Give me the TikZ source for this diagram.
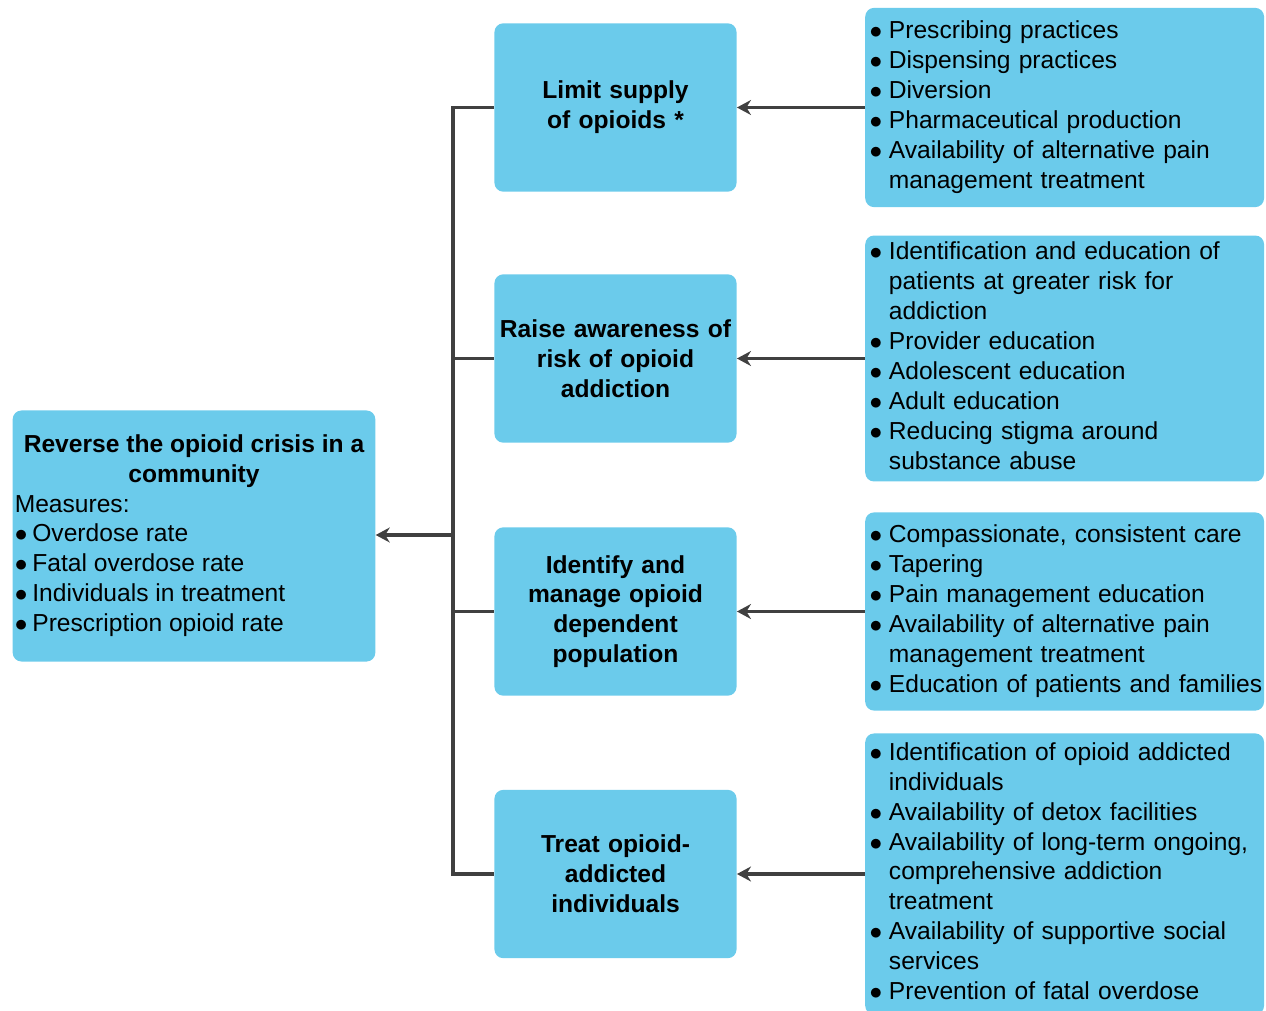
\documentclass[tikz,border=0pt]{standalone}
\usepackage{fontspec}
\setmainfont{Liberation Sans}
\usetikzlibrary{arrows.meta, positioning}
\definecolor{boxblue}{HTML}{6BCBEB}
\definecolor{linegray}{HTML}{404040}
\newcommand{\bul}{$\bullet$}

\begin{document}
\begin{tikzpicture}[
    x=0.02cm, y=-0.02cm,
    box/.style={fill=boxblue, rounded corners=5pt, font=\fontsize{14}{17}\selectfont},
    goal/.style={box, minimum width=206.4pt, minimum height=142.9pt, inner sep=0pt},
    action/.style={box, font=\fontsize{14}{17}\selectfont\bfseries, text width=137pt, minimum height=95.8pt, inner xsep=0.4pt, inner ysep=0pt, align=center},
    factors/.style={box, text width=222pt, inner xsep=2.5pt, inner ysep=0pt, align=left, anchor=west},
    link/.style={line width=2pt, draw=linegray},
    arrow/.style={link, -{Stealth[length=8pt, width=8.5pt]}}
]
    \clip (0,0) rectangle (1266,1010);

    % Goal
    \node[goal] (goal) at (194,536) {\begin{tabular}{@{}p{10pt}@{}p{194pt}@{}}
        \multicolumn{2}{@{}c@{}}{\bfseries Reverse the opioid crisis in a}\\
        \multicolumn{2}{@{}c@{}}{\bfseries community}\\
        \multicolumn{2}{@{}l@{}}{Measures:}\\
        \bul & Overdose rate\\
        \bul & Fatal overdose rate\\
        \bul & Individuals in treatment\\
        \bul & Prescription opioid rate
    \end{tabular}};

    % Actions
    \node[action] (lim) at (615.5,107.5) {Limit supply\\of opioids *};
    \node[action] (rai) at (615.5,358.5) {Raise awareness of\\risk of opioid\\addiction};
    \node[action] (ide) at (615.5,611.5) {Identify and\\manage opioid\\dependent\\population};
    \node[action] (tre) at (615.5,874)   {Treat opioid-\\addicted\\individuals};

    % Factors
    \node[factors, minimum height=113.4pt, right=2.56cm of lim] (limf) {\begin{tabular}{@{}p{11pt}@{}l@{}}
        \bul & Prescribing practices\\
        \bul & Dispensing practices\\
        \bul & Diversion\\
        \bul & Pharmaceutical production\\
        \bul & Availability of alternative pain\\
             & management treatment
    \end{tabular}};
    \node[factors, minimum height=140pt, right=2.56cm of rai] (raif) {\begin{tabular}{@{}p{11pt}@{}l@{}}
        \bul & Identification and education of\\
             & patients at greater risk for\\
             & addiction\\
        \bul & Provider education\\
        \bul & Adolescent education\\
        \bul & Adult education\\
        \bul & Reducing stigma around\\
             & substance abuse
    \end{tabular}};
    \node[factors, minimum height=112.8pt, right=2.56cm of ide] (idef) {\begin{tabular}{@{}p{11pt}@{}l@{}}
        \bul & Compassionate, consistent care\\
        \bul & Tapering\\
        \bul & Pain management education\\
        \bul & Availability of alternative pain\\
             & management treatment\\
        \bul & Education of patients and families
    \end{tabular}};
    \node[factors, minimum height=160pt, right=2.56cm of tre] (tref) {\begin{tabular}{@{}p{11pt}@{}l@{}}
        \bul & Identification of opioid addicted\\
             & individuals\\
        \bul & Availability of detox facilities\\
        \bul & Availability of long-term ongoing,\\
             & comprehensive addiction\\
             & treatment\\
        \bul & Availability of supportive social\\
             & services\\
        \bul & Prevention of fatal overdose
    \end{tabular}};

    % Connectors
    \coordinate (hub) at (453,535);
    \draw[link] (lim.west) -| (hub) |- (tre.west);
    \draw[link] (hub) |- (rai.west);
    \draw[link] (hub) |- (ide.west);
    \draw[arrow] (hub) -- (hub -| goal.east);
    \draw[arrow] (limf.west) -- (lim.east);
    \draw[arrow] (raif.west) -- (rai.east);
    \draw[arrow] (idef.west) -- (ide.east);
    \draw[arrow] (tref.west) -- (tre.east);
\end{tikzpicture}
\end{document}
